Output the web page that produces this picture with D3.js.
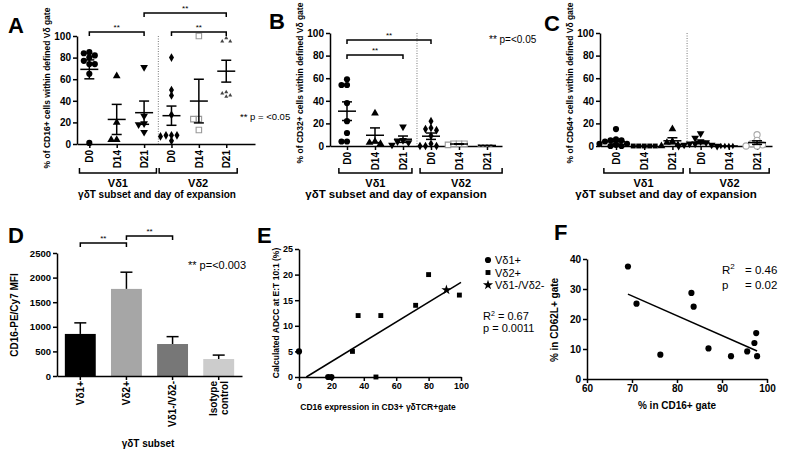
<!DOCTYPE html>
<html><head><meta charset="utf-8">
<script src="https://cdn.jsdelivr.net/npm/d3@7"></script>
<style>body{margin:0;background:#fff} svg{display:block}</style>
</head><body>
<svg id="c" width="800" height="461"></svg>
<script>
// ---------- DATA ----------
const dayCats = ["D0","D14","D21","D0","D14","D21"];
const subsetLabels = ["Vδ1","Vδ2"];
const yTicks100 = [0,20,40,60,80,100];

// Panel A: % CD16+
const a_vd1_d0  = [85,84,82,80,77,74,74,65,1];
const a_vd1_d14 = [63,20,4,4];
const a_vd1_d21 = [71,26,19,18,11];
const a_vd2_d0  = [80,50,45,27,8,8,8,7,3];
const a_vd2_d14 = [100,23,23,13];
const a_vd2_d21 = [98,95,95,48,45,44,47];

// Panel B: % CD32+
const b_vd1_d0  = [59,54,54,38,22,11.5,4,4];
const b_vd1_d14 = [29,4,3,2];
const b_vd1_d21 = [17,5,4,3,1];
const b_vd2_d0  = [22,16,15,14,9,2,0,0,0];
const b_vd2_d14 = [2,2,2,1];
const b_vd2_d21 = [0.5,0.5,0.5,0.5];

// Panel C: % CD64+
const c_vd1_d0  = [15,6,5,5,4,2,2,1,0,0];
const c_vd1_d14 = [0,0,0,0,0];
const c_vd1_d21 = [15,4,3,1,0];
const c_vd2_d0  = [11,7,4,3,2,2,1,1,0,0];
const c_vd2_d14 = [0,0,0,0];
const c_vd2_d21 = [10,5,2,1,0,0];

// Panel D: CD16 MFI
const dCats  = ["Vδ1+","Vδ2+","Vδ1-/Vδ2-","Isotype control"];
const dMeans = [855,1770,650,345];
const dErr   = [225,340,150,80];
const dTicks = [0,500,1000,1500,2000,2500];

// Panel E: ADCC vs CD16
const eVd1X = [0,18,20],            eVd1Y = [5,0,0];
const eVd2X = [33,36.5,50.5,47.5,72,80,99], eVd2Y = [5,12,12,0,14,20,16];
const eDnX  = [91],                 eDnY  = [17];
const eFitX = [4.5,100],            eFitY = [0,18.5];
const eLegend = ["Vδ1+","Vδ2+","Vδ1-/Vδ2-"];

// Panel F: CD62L vs CD16
const fX = [69.1,71,76.3,83.2,83.7,87,92,95.6,97.2,97.6,97.8];
const fY = [37.5,25.1,8.1,28.7,24.1,10.2,7.6,9.2,12,15.3,7.6];

// ---------- DRAWING ----------
const FONT = "'Liberation Sans', Arial, Helvetica, sans-serif";
const svg = d3.select('#c').style('font-family', FONT);

function marker(g, type, x, y){
  const defs = {
    circle:{s:d3.symbolCircle,a:30,fill:'#000'},
    tri:{s:d3.symbolTriangle,a:26,fill:'#000'},
    triDown:{s:d3.symbolTriangle,a:26,fill:'#000',rot:180},
    diamond:{s:d3.symbolDiamond,a:22,fill:'#000'},
    sqOpen:{s:d3.symbolSquare,a:30,fill:'#fff',stroke:'#999'},
    tinyTri:{s:d3.symbolTriangle,a:7,fill:'#444'},
    tinyGray:{s:d3.symbolSquare,a:8,fill:'#999'},
    square:{s:d3.symbolSquare,a:24,fill:'#000'},
    tinyDiamond:{s:d3.symbolDiamond,a:12,fill:'#000'},
    circOpen:{s:d3.symbolCircle,a:30,fill:'#fff',stroke:'#aaa'},
    star:{s:d3.symbolStar,a:32,fill:'#000'}
  };
  const d = defs[type];
  g.append('path').attr('d', d3.symbol().type(d.s).size(d.a)())
    .attr('transform', `translate(${x},${y})` + (d.rot ? ` rotate(${d.rot})` : ''))
    .attr('fill', d.fill).attr('stroke', d.stroke || 'none').attr('stroke-width', 1.1);
}

function swarm(vals, cx, y, d){
  const sorted = vals.slice().sort((p,q)=>q-p);
  const placed = [];
  sorted.forEach(v=>{
    const py = y(v);
    for (let k=0;k<40;k++){
      const off = (k===0?0:(k%2? -Math.ceil(k/2): Math.ceil(k/2)))*d;
      const px = cx + off;
      if (placed.every(p => Math.hypot(p[0]-px, p[1]-py) >= d*0.95)){ placed.push([px,py]); break; }
    }
  });
  return placed;
}

function styleAxis(a, fs){
  a.selectAll('path,line').attr('stroke','#000').attr('stroke-width',1.5);
  a.selectAll('text').attr('fill','#000').style('font-family',FONT).style('font-weight','bold').style('font-size',fs+'px');
}

function dotPanel(cfg){
  const g = svg.append('g');
  const x = d3.scaleLinear().domain(cfg.dom).range([cfg.axisX, cfg.xEnd]);
  const y = d3.scaleLinear().domain([0,100]).range([cfg.y0, cfg.y100]);
  g.append('line').attr('x1',x(cfg.dotted)).attr('x2',x(cfg.dotted))
    .attr('y1',y(100)).attr('y2',y(0)).attr('stroke','#777').attr('stroke-dasharray','1,1.5');
  const ya = g.append('g').attr('transform',`translate(${cfg.axisX},0)`)
    .call(d3.axisLeft(y).tickValues(yTicks100).tickSize(4).tickSizeOuter(0).tickPadding(2));
  styleAxis(ya, 10);
  const xa = g.append('g').attr('transform',`translate(0,${cfg.y0})`)
    .call(d3.axisBottom(x).tickValues(d3.range(6)).tickSize(4).tickSizeOuter(0).tickFormat(i=>dayCats[i]));
  styleAxis(xa, 10);
  xa.selectAll('text').attr('transform','rotate(-90)').attr('x',-6).attr('y',0).attr('dy','0.35em').style('text-anchor','end');

  cfg.groups.forEach((vals,i)=>{
    const type = cfg.markers[i];
    const dd = type.startsWith('tiny') ? 4 : 5.5;
    swarm(vals, x(i), y, dd).forEach(p=>marker(g, type, p[0], p[1]));
    const m = d3.mean(vals), s = (d3.deviation(vals)||0)/Math.sqrt(vals.length);
    const cx = x(i);
    const ln = (x1,y1,x2,y2)=>g.append('line').attr('x1',x1).attr('y1',y1).attr('x2',x2).attr('y2',y2).attr('stroke','#000').attr('stroke-width',1.5);
    ln(cx-9,y(m),cx+9,y(m));
    if (s>0){
      ln(cx,y(m-s),cx,y(m+s));
      ln(cx-5,y(m-s),cx+5,y(m-s));
      ln(cx-5,y(m+s),cx+5,y(m+s));
    }
  });

  cfg.groupBr.forEach((br,i)=>{
    g.append('path').attr('d',`M${x(br[0])},${cfg.brY-5}V${cfg.brY}H${x(br[1])}V${cfg.brY-5}`)
      .attr('fill','none').attr('stroke','#000').attr('stroke-width',1.5);
    g.append('text').attr('x',(x(br[0])+x(br[1]))/2).attr('y',cfg.brY+14).attr('text-anchor','middle')
      .style('font-weight','bold').style('font-size','11px').text(subsetLabels[i]);
  });

  cfg.sig.forEach(s=>{
    g.append('path').attr('d',`M${x(s.a)},${s.y+4}V${s.y}H${x(s.b)}V${s.y+4}`)
      .attr('fill','none').attr('stroke','#000').attr('stroke-width',1.5);
    g.append('text').attr('x',(x(s.a)+x(s.b))/2).attr('y',s.y-2).attr('text-anchor','middle')
      .style('font-size','8px').text('**');
  });

  g.append('text').attr('x',cfg.titleX).attr('y',198).attr('text-anchor','middle')
    .style('font-weight','bold').style('font-size',cfg.titleSize+'px').text('γδT subset and day of expansion');
  g.append('text').attr('transform',`translate(${cfg.ylX},${cfg.ylY}) rotate(-90)`).attr('text-anchor','middle')
    .attr('dy','0.35em').style('font-weight','bold').style('font-size','8.5px').text(cfg.ylabel);
  g.append('text').attr('x',cfg.letterX).attr('y',cfg.letterY).style('font-weight','bold').style('font-size','22px').text(cfg.letter);
  if (cfg.pText){
    g.append('text').attr('x',cfg.pText[0]).attr('y',cfg.pText[1]).style('font-size',cfg.pText[2]+'px').text(cfg.pText[3]);
  }
}

dotPanel({letter:'A', letterX:8, letterY:33, axisX:77, xEnd:255, y0:144, y100:36,
  dom:[-0.45,6.05], dotted:2.52, groupBr:[[-0.36,2.45],[2.55,5.4]], brY:173,
  groups:[a_vd1_d0,a_vd1_d14,a_vd1_d21,a_vd2_d0,a_vd2_d14,a_vd2_d21],
  markers:['circle','tri','triDown','diamond','sqOpen','tinyTri'],
  sig:[{a:0,b:2,y:32},{a:2,b:5,y:13},{a:3,b:5,y:32}],
  titleX:157, titleSize:10, ylX:47, ylY:88, ylabel:'% of CD16+ cells within defined Vδ gate',
  pText:[240,120,9.5,'** p = <0.05']});

dotPanel({letter:'B', letterX:269, letterY:29, axisX:330, xEnd:502, y0:146, y100:33,
  dom:[-0.607,5.536], dotted:2.5, groupBr:[[-0.29,2.32],[2.61,5.54]], brY:173,
  groups:[b_vd1_d0,b_vd1_d14,b_vd1_d21,b_vd2_d0,b_vd2_d14,b_vd2_d21],
  markers:['circle','tri','triDown','diamond','sqOpen','tinyGray'],
  sig:[{a:0,b:2,y:55},{a:0,b:3,y:40}],
  titleX:396, titleSize:11.5, ylX:300, ylY:83, ylabel:'% of CD32+ cells within defined Vδ gate',
  pText:[489,43,10,'** p=<0.05']});

dotPanel({letter:'C', letterX:544, letterY:31, axisX:600, xEnd:772, y0:146, y100:33,
  dom:[-0.567,5.53], dotted:2.52, groupBr:[[-0.43,2.38],[2.62,5.43]], brY:173,
  groups:[c_vd1_d0,c_vd1_d14,c_vd1_d21,c_vd2_d0,c_vd2_d14,c_vd2_d21],
  markers:['circle','square','tri','triDown','tinyDiamond','circOpen'],
  sig:[], titleX:666, titleSize:11.5, ylX:570, ylY:83, ylabel:'% of CD64+ cells within defined Vδ gate'});

// ---------- Panel D ----------
(function(){
  const g = svg.append('g');
  const x = d3.scaleBand().domain(dCats).range([57,242]).paddingInner(0.33).paddingOuter(0.17);
  const y = d3.scaleLinear().domain([0,2500]).range([376,253]);
  const cols = ['#000000','#a6a6a6','#777777','#cccccc'];
  dCats.forEach((c,i)=>{
    const cx = x(c)+x.bandwidth()/2;
    g.append('line').attr('x1',cx).attr('x2',cx).attr('y1',y(dMeans[i])).attr('y2',y(dMeans[i]+dErr[i])).attr('stroke','#000').attr('stroke-width',1.5);
    g.append('line').attr('x1',cx-6).attr('x2',cx+6).attr('y1',y(dMeans[i]+dErr[i])).attr('y2',y(dMeans[i]+dErr[i])).attr('stroke','#000').attr('stroke-width',1.5);
    g.append('rect').attr('x',x(c)).attr('y',y(dMeans[i])).attr('width',x.bandwidth()).attr('height',y(0)-y(dMeans[i])).attr('fill',cols[i]);
  });
  const ya = g.append('g').attr('transform','translate(57,0)').call(d3.axisLeft(y).tickValues(dTicks).tickFormat(d3.format('d')).tickSize(4).tickSizeOuter(0).tickPadding(2));
  styleAxis(ya, 9.5);
  const xa = g.append('g').attr('transform','translate(0,376)').call(d3.axisBottom(x).tickSize(4).tickSizeOuter(0).tickFormat(''));
  styleAxis(xa, 10);
  dCats.forEach((c,i)=>{
    const cx = x(c)+x.bandwidth()/2;
    const words = c === 'Isotype control' ? ['Isotype','control'] : [c];
    words.forEach((w,j)=>{
      const off = (j - (words.length-1)/2)*11;
      g.append('text').attr('transform',`translate(${cx+off},381) rotate(-90)`).attr('text-anchor','end').attr('dy','0.35em')
        .style('font-weight','bold').style('font-size','10px').text(w);
    });
  });
  const br = (a,b,yy)=>{
    const xa_ = x(dCats[a])+x.bandwidth()/2, xb_ = x(dCats[b])+x.bandwidth()/2;
    g.append('path').attr('d',`M${xa_},${yy+4}V${yy}H${xb_}V${yy+4}`).attr('fill','none').attr('stroke','#000').attr('stroke-width',1.5);
    g.append('text').attr('x',(xa_+xb_)/2).attr('y',yy-2).attr('text-anchor','middle').style('font-size','8px').text('**');
  };
  br(0,1,243); br(1,2,236);
  g.append('text').attr('x',188).attr('y',269).style('font-size','11px').text('** p=<0.003');
  g.append('text').attr('x',148).attr('y',447).attr('text-anchor','middle').style('font-weight','bold').style('font-size','10px').text('γδT subset');
  g.append('text').attr('transform','translate(14,315) rotate(-90)').attr('text-anchor','middle').attr('dy','0.35em')
    .style('font-weight','bold').style('font-size','10px').text('CD16-PE/Cy7 MFI');
  g.append('text').attr('x',8).attr('y',243).style('font-weight','bold').style('font-size','22px').text('D');
})();

// ---------- Panel E ----------
(function(){
  const g = svg.append('g');
  const x = d3.scaleLinear().domain([0,100]).range([299,461]);
  const y = d3.scaleLinear().domain([0,25]).range([377,249]);
  const ya = g.append('g').attr('transform','translate(299,0)').call(d3.axisLeft(y).tickValues([0,5,10,15,20,25]).tickSize(4).tickSizeOuter(0).tickPadding(2));
  styleAxis(ya, 9);
  const xa = g.append('g').attr('transform','translate(0,377)').call(d3.axisBottom(x).tickValues([0,20,40,60,80,100]).tickSize(4).tickSizeOuter(0).tickPadding(2));
  styleAxis(xa, 9);
  g.append('line').attr('x1',x(eFitX[0])).attr('y1',y(eFitY[0])).attr('x2',x(eFitX[1])).attr('y2',y(eFitY[1])).attr('stroke','#000').attr('stroke-width',1.5);
  eVd1X.forEach((v,i)=>marker(g,'circle',x(v),y(eVd1Y[i])));
  eVd2X.forEach((v,i)=>marker(g,'square',x(v),y(eVd2Y[i])));
  eDnX.forEach((v,i)=>marker(g,'star',x(v),y(eDnY[i])));
  const lt = ['circle','square','star'];
  eLegend.forEach((t,i)=>{
    marker(g, lt[i], 488, 260+i*12.5);
    g.append('text').attr('x',495).attr('y',264+i*12.5).style('font-size','11px').text(t);
  });
  const r = g.append('text').attr('x',483).attr('y',320).style('font-size','11px');
  r.append('tspan').text('R');
  r.append('tspan').attr('dy',-4).style('font-size','7px').text('2');
  r.append('tspan').attr('dy',4).text(' = 0.67');
  g.append('text').attr('x',483).attr('y',332).style('font-size','11px').text('p = 0.0011');
  g.append('text').attr('x',378).attr('y',410).attr('text-anchor','middle').style('font-weight','bold').style('font-size','8.5px').text('CD16 expression in CD3+ γδTCR+gate');
  g.append('text').attr('transform','translate(276,313) rotate(-90)').attr('text-anchor','middle').attr('dy','0.35em')
    .style('font-weight','bold').style('font-size','8.5px').text('Calculated ADCC at E:T 10:1 (%)');
  g.append('text').attr('x',257).attr('y',243).style('font-weight','bold').style('font-size','22px').text('E');
})();

// ---------- Panel F ----------
(function(){
  const g = svg.append('g');
  const x = d3.scaleLinear().domain([60,100]).range([587,767]);
  const y = d3.scaleLinear().domain([0,40]).range([379,259]);
  const ya = g.append('g').attr('transform','translate(587,0)').call(d3.axisLeft(y).tickValues([0,10,20,30,40]).tickSize(4).tickSizeOuter(0).tickPadding(2));
  styleAxis(ya, 10);
  const xa = g.append('g').attr('transform','translate(0,379)').call(d3.axisBottom(x).tickValues([60,70,80,90,100]).tickSize(4).tickSizeOuter(0).tickPadding(2));
  styleAxis(xa, 10);
  // least squares fit
  const mx = d3.mean(fX), my = d3.mean(fY);
  const slope = d3.sum(fX.map((v,i)=>(v-mx)*(fY[i]-my))) / d3.sum(fX.map(v=>(v-mx)*(v-mx)));
  const b0 = my - slope*mx;
  const x0 = d3.min(fX), x1 = d3.max(fX);
  g.append('line').attr('x1',x(x0)).attr('y1',y(b0+slope*x0)).attr('x2',x(x1)).attr('y2',y(b0+slope*x1)).attr('stroke','#000').attr('stroke-width',1.5);
  fX.forEach((v,i)=>marker(g,'circle',x(v),y(fY[i])));
  const r = g.append('text').attr('y',274).style('font-size','11.5px');
  r.append('tspan').attr('x',722).text('R');
  r.append('tspan').attr('dy',-5).style('font-size','8px').text('2');
  r.append('tspan').attr('x',745).attr('dy',5).text('=  0.46');
  const p = g.append('text').attr('y',289).style('font-size','11.5px');
  p.append('tspan').attr('x',722).text('p');
  p.append('tspan').attr('x',745).text('=  0.02');
  g.append('text').attr('x',677).attr('y',409).attr('text-anchor','middle').style('font-weight','bold').style('font-size','10px').text('% in CD16+ gate');
  g.append('text').attr('transform','translate(554,320) rotate(-90)').attr('text-anchor','middle').attr('dy','0.35em')
    .style('font-weight','bold').style('font-size','10px').text('% in CD62L+ gate');
  g.append('text').attr('x',554).attr('y',240).style('font-weight','bold').style('font-size','22px').text('F');
})();
</script>
</body></html>
